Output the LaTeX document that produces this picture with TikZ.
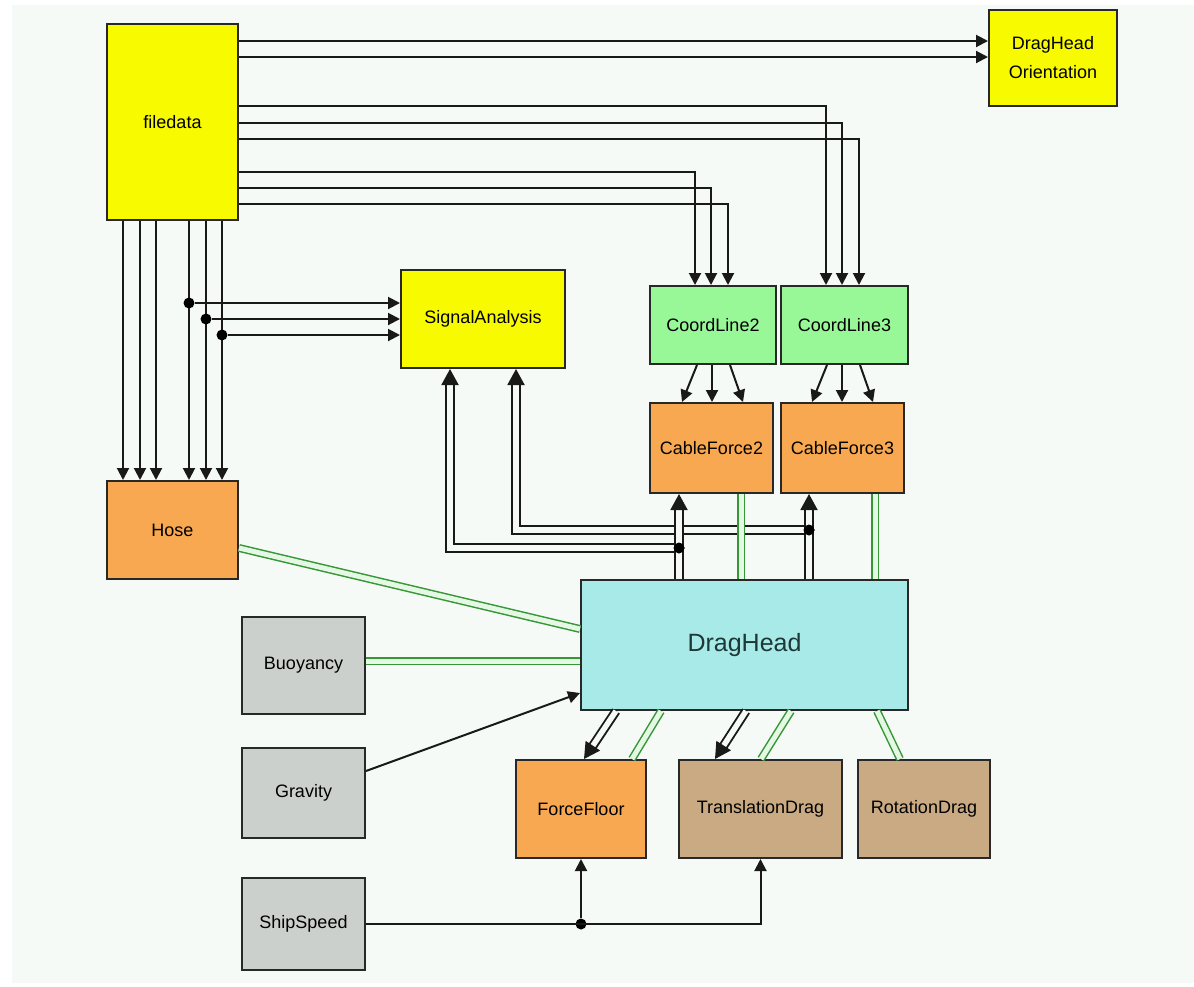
\documentclass[tikz,border=0pt]{standalone}
\usepackage{fontspec}
\setmainfont{Liberation Sans}
\usepackage{tikz}
\usetikzlibrary{arrows.meta}
\usepackage{xcolor}
\definecolor{bgcol}{RGB}{245,250,247}
\definecolor{boxline}{RGB}{40,40,40}
\definecolor{fdyellow}{RGB}{248,250,0}
\definecolor{clgreen}{RGB}{152,248,152}
\definecolor{cforange}{RGB}{248,168,80}
\definecolor{dhcyan}{RGB}{168,234,232}
\definecolor{drtan}{RGB}{202,170,130}
\definecolor{gygrey}{RGB}{204,208,204}
\definecolor{lnkgreen}{RGB}{55,150,55}
\definecolor{lnkcore}{RGB}{228,248,228}
\tikzstyle{block} = [rectangle, draw=boxline, line width=2pt, text centered, inner sep=0pt, font=\fontsize{18}{22}\selectfont]
\tikzstyle{arrow} = [line width=2pt, draw={rgb,255:red,25;green,25;blue,25}, -{Triangle[length=12pt,width=12pt]}]
\tikzstyle{bus} = [line width=1.9pt, draw={rgb,255:red,25;green,25;blue,25}, double=bgcol, double distance=5.5pt, -{Triangle[length=16pt,width=17pt]}]
\tikzstyle{link} = [line width=1.5pt, draw=lnkgreen, double=lnkcore, double distance=5pt]
\tikzstyle{junction} = [circle, fill=black, inner sep=0pt, minimum size=11pt]

\begin{document}
\begin{tikzpicture}[x=1pt, y=-1pt]
\useasboundingbox (0,0) rectangle (1194,986);
\fill[bgcol] (12,5) rectangle (1194,983);

% Sources
\node[block, fill=fdyellow, minimum width=131pt, minimum height=196pt] (filedata) at (172.5,122) {filedata};
\node[block, fill=fdyellow, minimum width=128pt, minimum height=96pt, align=center, font=\fontsize{18}{29}\selectfont] (dho) at (1053,58) {DragHead\\Orientation};
\node[block, fill=fdyellow, minimum width=164pt, minimum height=98pt] (sigan) at (483,319) {SignalAnalysis};

% Cable lines
\node[block, fill=clgreen, minimum width=126pt, minimum height=78pt] (cl2) at (713,325) {CoordLine2};
\node[block, fill=clgreen, minimum width=127pt, minimum height=78pt] (cl3) at (844.5,325) {CoordLine3};
\node[block, fill=cforange, minimum width=123pt, minimum height=90pt] (cf2) at (711.5,448) {CableForce2};
\node[block, fill=cforange, minimum width=123pt, minimum height=90pt] (cf3) at (842.5,448) {CableForce3};
\node[block, fill=cforange, minimum width=131pt, minimum height=98pt] (hose) at (172.5,530) {Hose};

% Drag head
\node[block, fill=dhcyan, minimum width=327pt, minimum height=130pt, font=\fontsize{25}{30}\selectfont, text={rgb,255:red,30;green,55;blue,55}] (draghead) at (744.5,645) {DragHead};

% Loads
\node[block, fill=gygrey, minimum width=123pt, minimum height=97pt] (buoy) at (303.5,665.5) {Buoyancy};
\node[block, fill=gygrey, minimum width=123pt, minimum height=90pt] (grav) at (303.5,793) {Gravity};
\node[block, fill=gygrey, minimum width=123pt, minimum height=92pt] (ship) at (303.5,924) {ShipSpeed};
\node[block, fill=cforange, minimum width=130pt, minimum height=98pt] (ff) at (581,809) {ForceFloor};
\node[block, fill=drtan, minimum width=163pt, minimum height=98pt] (td) at (760.5,809) {TranslationDrag};
\node[block, fill=drtan, minimum width=132pt, minimum height=98pt] (rd) at (924,809) {RotationDrag};

% filedata outputs
\draw[arrow] (filedata.east |- 0,41) -- (dho.west |- 0,41);
\draw[arrow] (filedata.east |- 0,57) -- (dho.west |- 0,57);
\draw[arrow] (filedata.east |- 0,106) -| (cl3.north -| 826,0);
\draw[arrow] (filedata.east |- 0,123) -| (cl3.north -| 842,0);
\draw[arrow] (filedata.east |- 0,139) -| (cl3.north -| 859,0);
\draw[arrow] (filedata.east |- 0,172) -| (cl2.north -| 695,0);
\draw[arrow] (filedata.east |- 0,188) -| (cl2.north -| 711,0);
\draw[arrow] (filedata.east |- 0,204) -| (cl2.north -| 728,0);
\draw[arrow] (filedata.south -| 123,0) -- (hose.north -| 123,0);
\draw[arrow] (filedata.south -| 140,0) -- (hose.north -| 140,0);
\draw[arrow] (filedata.south -| 156,0) -- (hose.north -| 156,0);
\draw[arrow] (filedata.south -| 189,0) -- (hose.north -| 189,0);
\draw[arrow] (filedata.south -| 206,0) -- (hose.north -| 206,0);
\draw[arrow] (filedata.south -| 222,0) -- (hose.north -| 222,0);

% branches into SignalAnalysis
\node[junction] (j1) at (189,303) {};
\node[junction] (j2) at (206,319) {};
\node[junction] (j3) at (222,335) {};
\draw[arrow] (j1) -- (sigan.west |- j1);
\draw[arrow] (j2) -- (sigan.west |- j2);
\draw[arrow] (j3) -- (sigan.west |- j3);

% CoordLine -> CableForce
\draw[arrow] (cl2.south -| 697,0) -- (cf2.north -| 682,0);
\draw[arrow] (cl2.south -| 712,0) -- (cf2.north -| 712,0);
\draw[arrow] (cl2.south -| 730,0) -- (cf2.north -| 743,0);
\draw[arrow] (cl3.south -| 827,0) -- (cf3.north -| 812,0);
\draw[arrow] (cl3.south -| 842,0) -- (cf3.north -| 842,0);
\draw[arrow] (cl3.south -| 860,0) -- (cf3.north -| 873,0);

% cable forces back to SignalAnalysis
\node[junction] (jb3) at (809,530) {};
\draw[bus] (jb3.center) -| (sigan.south -| 516,0);
\node[junction] (jb2) at (679,548) {};
\draw[bus] (jb2.center) -| (sigan.south -| 450,0);
\draw[bus] (draghead.north -| 679,0) -- (cf2.south -| 679,0);
\draw[bus] (draghead.north -| 809,0) -- (cf3.south -| 809,0);
\draw[link] (cf2.south -| 741,0) -- (draghead.north -| 741,0);
\draw[link] (cf3.south -| 875,0) -- (draghead.north -| 875,0);
\node[junction] at (jb3) {};
\node[junction] at (jb2) {};

% inputs of DragHead
\draw[link] (hose.east |- 0,548) -- (draghead.west |- 0,629);
\draw[link] (buoy.east |- 0,661) -- (draghead.west |- 0,661);
\draw[arrow] (grav.east |- 0,771) -- (draghead.west |- 0,693);

% DragHead to floor and drag blocks
\draw[bus] (draghead.south -| 616,0) -- (ff.north -| 584,0);
\draw[link] (draghead.south -| 661,0) -- (ff.north -| 632,0);
\draw[bus] (draghead.south -| 746,0) -- (td.north -| 715,0);
\draw[link] (draghead.south -| 791,0) -- (td.north -| 761,0);
\draw[link] (draghead.south -| 877,0) -- (rd.north -| 900,0);

% ship speed
\node[junction] (jss) at (ff.south |- ship.east) {};
\draw[arrow] (ship.east) -| (td.south);
\draw[arrow] (jss) -- (ff.south);
\end{tikzpicture}
\end{document}
